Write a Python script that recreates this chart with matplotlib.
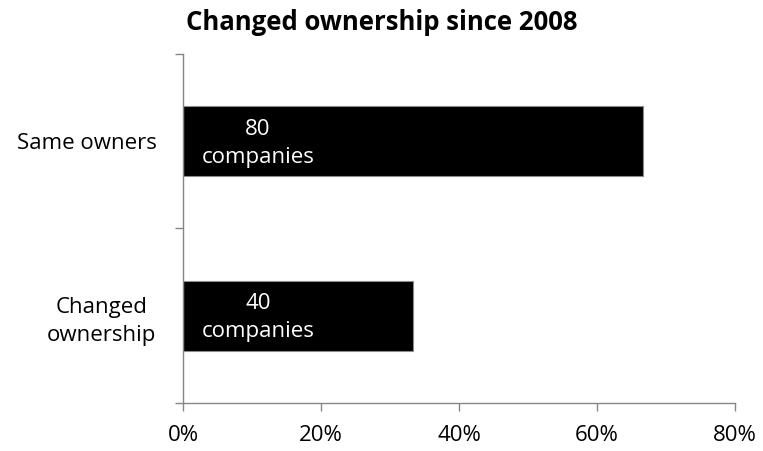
import matplotlib
matplotlib.use("Agg")
import matplotlib.pyplot as plt

# Ownership change counts (bottom to top)
categories = ["Changed\nownership", "Same owners"]
companies = [40, 80]
total = sum(companies)
shares = [c / total * 100 for c in companies]

plt.rcParams["font.family"] = ["Open Sans", "DejaVu Sans"]

fig = plt.figure(figsize=(7.63, 4.51), dpi=100)
ax = fig.add_axes([0.2398, 0.1064, 0.7235, 0.7739])

y = range(len(categories))
ax.barh(y, shares, height=0.4, color="black", edgecolor="#8c8c8c", linewidth=0.8)

# Count labels inside the bars, near the base
for yi, c in zip(y, companies):
    ax.annotate(f"{c}\ncompanies", xy=(0, yi), xytext=(54, -1.5),
                textcoords="offset points", ha="center", va="center",
                multialignment="center", color="white", fontsize=16,
                linespacing=1.45)

ax.set_xlim(0, 80)
ax.set_ylim(-0.5, 1.5)
ax.set_xticks([0, 20, 40, 60, 80])
ax.set_xticklabels(["0%", "20%", "40%", "60%", "80%"], fontsize=16)
ax.set_yticks(list(y))
ax.set_yticklabels(categories, fontsize=16, multialignment="center",
                   linespacing=1.45)
ax.tick_params(axis="y", which="major", length=0, pad=19)
ax.set_yticks([-0.5, 0.5, 1.5], minor=True)
ax.tick_params(axis="y", which="minor", length=6, color="#868686", width=1)
ax.tick_params(axis="x", length=6, color="#868686", width=1, pad=10)

for side in ["top", "right"]:
    ax.spines[side].set_visible(False)
for side in ["left", "bottom"]:
    ax.spines[side].set_color("#868686")
    ax.spines[side].set_linewidth(1)

fig.suptitle("Changed ownership since 2008", x=0.5, y=0.98,
             fontsize=18.5, fontweight="bold")

fig.savefig("out.png", dpi=100)
